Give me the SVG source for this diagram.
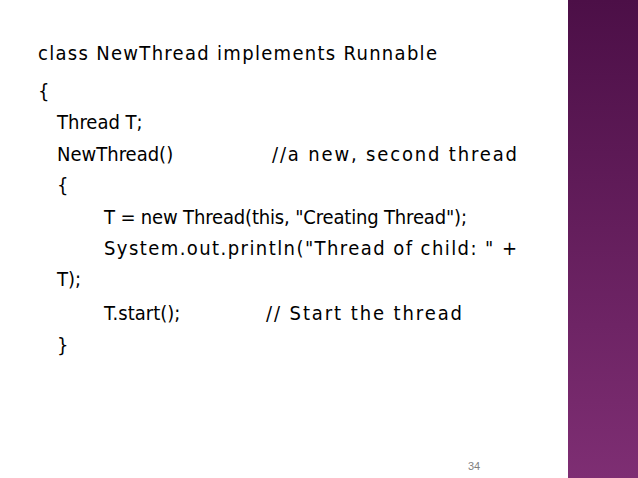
<svg xmlns="http://www.w3.org/2000/svg" width="638" height="478" viewBox="0 0 638 478">
<defs>
<linearGradient id="g" x1="0" y1="0" x2="0" y2="1"><stop offset="0" stop-color="#4c0f47"/><stop offset="1" stop-color="#7e2e73"/></linearGradient>
<style>.t{font-family:"DejaVu Sans",sans-serif;font-stretch:condensed;font-size:20px;fill:#000}</style>
</defs>
<rect width="638" height="478" fill="#fff"/>
<rect x="568" y="0" width="70" height="478" fill="url(#g)"/>
<g id="code">
<text class="t" x="38" y="60" textLength="399">class NewThread implements Runnable</text>
<text class="t" x="38" y="98">{</text>
<text class="t" x="57" y="129">Thread T;</text>
<text class="t" x="57" y="161">NewThread()</text>
<text class="t" x="272" y="161" textLength="245">//a new, second thread</text>
<text class="t" x="57" y="192">{</text>
<text class="t" x="104" y="224" textLength="363">T = new Thread(this, "Creating Thread");</text>
<text class="t" x="104" y="255" textLength="413">System.out.println("Thread of child: " +</text>
<text class="t" x="57" y="286">T);</text>
<text class="t" x="104" y="320">T.start();</text>
<text class="t" x="266" y="320" textLength="196">// Start the thread</text>
<text class="t" x="57" y="352">}</text>
</g>
<text x="474" y="470" text-anchor="middle" font-family="Liberation Sans, sans-serif" font-size="11" fill="#7f7f7f">34</text>
</svg>
